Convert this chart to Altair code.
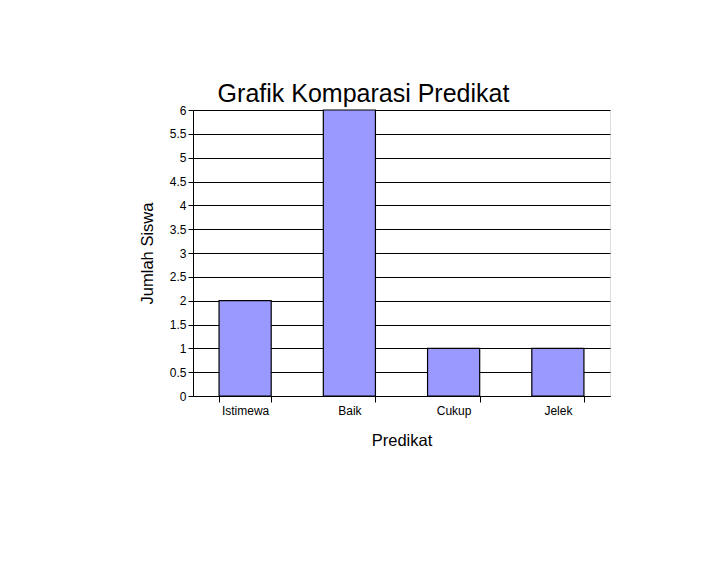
import altair as alt
import pandas as pd

categories = ["Istimewa", "Baik", "Cukup", "Jelek"]
counts = [2, 6, 1, 1]
y_ticks = [0, 0.5, 1, 1.5, 2, 2.5, 3, 3.5, 4, 4.5, 5, 5.5, 6]

df = pd.DataFrame({"Predikat": categories, "Jumlah Siswa": counts})

FONT = "Liberation Sans"

chart = (
    alt.Chart(df)
    .mark_bar(color="#9999FF", stroke="black", strokeWidth=1.2)
    .encode(
        x=alt.X(
            "Predikat:N",
            sort=categories,
            scale=alt.Scale(paddingInner=0.5, paddingOuter=0.25),
            axis=alt.Axis(
                title="Predikat",
                labelAngle=0,
                labelFontSize=12,
                labelColor="black",
                labelFont=FONT,
                labelPadding=3,
                titleFontSize=16.5,
                titleFont=FONT,
                titleFontWeight="normal",
                titleColor="black",
                titlePadding=16,
                domainColor="black",
                tickColor="black",
                tickBand="extent",
                tickSize=6,
                grid=False,
            ),
        ),
        y=alt.Y(
            "Jumlah Siswa:Q",
            scale=alt.Scale(domain=[0, 6], nice=False),
            axis=alt.Axis(
                title="Jumlah Siswa",
                values=y_ticks,
                format="~g",
                labelFontSize=12,
                labelFont=FONT,
                labelColor="black",
                titleFontSize=16.5,
                titleFont=FONT,
                titleFontWeight="normal",
                titleColor="black",
                titlePadding=14,
                domainColor="black",
                tickColor="black",
                tickSize=5,
                gridColor="black",
                gridOpacity=1,
                gridWidth=1,
            ),
        ),
    )
    .properties(
        width=417,
        height=286,
        title=alt.TitleParams(
            "Grafik Komparasi Predikat",
            fontSize=25,
            font=FONT,
            fontWeight="normal",
            color="black",
            anchor="middle",
            dx=-38,
            offset=-3,
        ),
        autosize=alt.AutoSizeParams(type="none"),
        padding={"left": 185, "top": 102, "right": 20, "bottom": 60},
    )
    .configure_view(stroke=None)
    .configure(background="white")
)

chart.save("out.html", embed_options={"renderer": "svg", "actions": False})
